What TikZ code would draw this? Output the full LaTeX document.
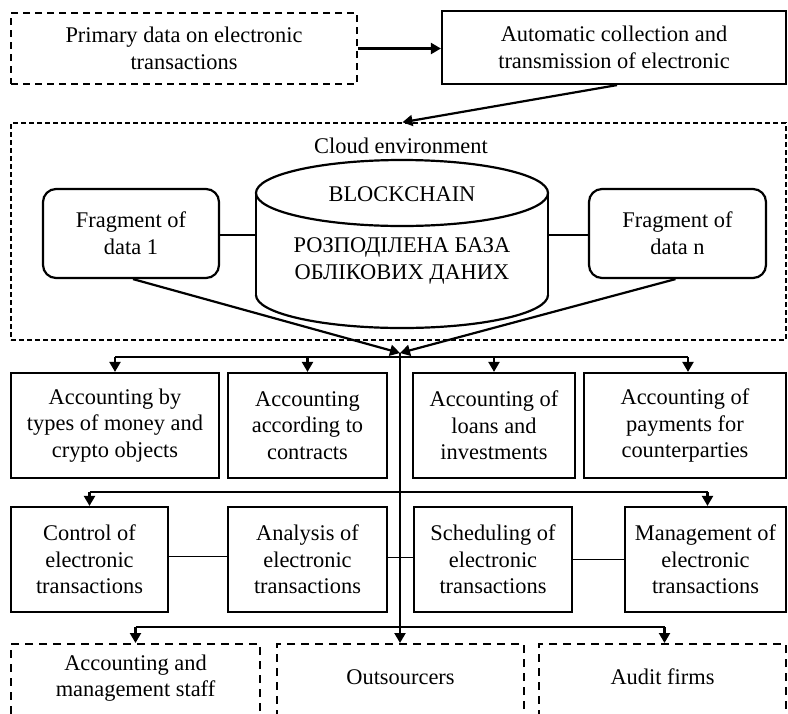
\documentclass[tikz,border=0pt]{standalone}
\usepackage{fontspec}
\setmainfont{Liberation Serif}
\usetikzlibrary{arrows.meta,calc}
\newcommand\boxfont{\fontsize{22.4}{26.6}\selectfont}
\begin{document}
\begin{tikzpicture}[x=1pt,y=-1pt,
  box/.style={draw, line width=2.2pt, align=center, inner sep=0pt, font=\boxfont},
  dbox/.style={box, line width=2pt, dash pattern=on 7pt off 5pt},
  cbox/.style={draw, line width=1.5pt, dash pattern=on 5pt off 3pt},
  frag/.style={box, rounded corners=13pt},
  txt/.style={align=center, inner sep=0pt, font=\boxfont},
  link/.style={line width=2.2pt},
  arr/.style={line width=2.2pt, -{Triangle[length=10pt,width=11pt]}},
  thinlink/.style={line width=1.1pt}]
\useasboundingbox (0,0) rectangle (788,713);
\clip (0,0) rectangle (788,713);

% top row
\node[dbox, minimum width=346pt, minimum height=71pt] (p1) at (184,48.5)
  {Primary data on electronic\\transactions};
\node[box, minimum width=344pt, minimum height=73pt] (p2) at (614,47.5)
  {Automatic collection and\\transmission of electronic};
\draw[arr] (p1.east) -- (p1.east -| p2.west);

% cloud
\node[cbox, minimum width=775pt, minimum height=217pt] (cloud) at (398.5,231.5) {};
\node[txt] (cloudlbl) at (401,146) {Cloud environment};
\draw[arr] ($(p2.south)+(3,0)$) -- ($(cloud.north)+(4,0)$);

% cylinder
\draw[line width=2.2pt] (402,193) ellipse [x radius=146pt, y radius=33pt];
\draw[line width=2.2pt] (256,193) -- (256,295);
\draw[line width=2.2pt] (548,193) -- (548,295);
\begin{scope}
  \clip (240,295) rectangle (560,340);
  \draw[line width=2.2pt] (402,295) ellipse [x radius=146pt, y radius=33pt];
\end{scope}
\coordinate (dbL) at (256,235);
\coordinate (dbR) at (548,235);
\node[txt] (db1) at (402,194) {BLOCKCHAIN};
\node[txt] (db2) at (402,261) {РОЗПОДІЛЕНА БАЗА\\ОБЛІКОВИХ ДАНИХ};

% fragments
\node[frag, minimum width=176pt, minimum height=89pt] (f1) at (131,233.5) {Fragment of\\data 1};
\node[frag, minimum width=177pt, minimum height=89pt] (fn) at (677.5,233.5) {Fragment of\\data n};
\draw[thinlink] (f1.east |- dbL) -- (dbL);
\draw[thinlink] (fn.west |- dbR) -- (dbR);

% junction
\coordinate (J) at (400,353);
\draw[arr] ($(f1.south)+(2,0)$) -- (J);
\draw[arr] ($(fn.south)+(-2,0)$) -- (J);

% row 1
\node[box, minimum width=208pt, minimum height=105pt] (a1) at (115,425.5)
  {Accounting by\\types of money and\\crypto objects};
\node[box, minimum width=159pt, minimum height=105pt] (a2) at (307.5,425.5)
  {Accounting\\according to\\contracts};
\node[box, minimum width=162pt, minimum height=105pt] (a3) at (494,425.5)
  {Accounting of\\loans and\\investments};
\node[box, minimum width=202pt, minimum height=105pt] (a4) at (685,425.5)
  {Accounting of\\payments for\\counterparties};

% row 2
\node[box, minimum width=157pt, minimum height=105pt] (b1) at (89.5,559.5)
  {Control of\\electronic\\transactions};
\node[box, minimum width=159pt, minimum height=105pt] (b2) at (307.5,559.5)
  {Analysis of\\electronic\\transactions};
\node[box, minimum width=158pt, minimum height=105pt] (b3) at (493,559.5)
  {Scheduling of\\electronic\\transactions};
\node[box, minimum width=161pt, minimum height=105pt] (b4) at (705.5,559.5)
  {Management of\\electronic\\transactions};
\draw[thinlink] ($(b1.east)+(0,-3)$) -- ($(b2.west)+(0,-3)$);
\draw[thinlink] ($(b2.east)+(0,-2)$) -- ($(b3.west)+(0,-2)$);
\draw[thinlink] (b3.east) -- (b4.west);

% row 3 (dashed, cut by the page edge)
\node[dbox, dash pattern=on 8pt off 6pt, minimum width=249pt, minimum height=140pt, anchor=north] (c1) at (135.5,643) {};
\node[dbox, dash pattern=on 8pt off 6pt, minimum width=247pt, minimum height=140pt, anchor=north] (c2) at (400.5,643) {};
\node[dbox, dash pattern=on 8pt off 6pt, minimum width=247pt, minimum height=140pt, anchor=north] (c3) at (662.5,643) {};
\node[txt] (c1t) at (135.5,678) {Accounting and\\management staff};
\node[txt] (c2t) at (400.5,677) {Outsourcers};
\node[txt] (c3t) at (662.5,677) {Audit firms};

% distribution bars
\coordinate (y1) at (0,357);
\coordinate (y2) at (0,492);
\coordinate (y3) at (0,627);
\draw[link] (a1.north |- y1) -- ($(a4.north |- y1)+(3,0)$);
\draw[arr] (a1.north |- y1) -- (a1.north);
\draw[arr] (a2.north |- y1) -- (a2.north);
\draw[arr] (a3.north |- y1) -- (a3.north);
\draw[arr] ($(a4.north |- y1)+(3,0)$) -- ($(a4.north)+(3,0)$);

\draw[link] (b1.north |- y2) -- ($(b4.north |- y2)+(2,0)$);
\draw[arr] (b1.north |- y2) -- (b1.north);
\draw[arr] ($(b4.north |- y2)+(2,0)$) -- ($(b4.north)+(2,0)$);

\draw[link] (c1.north |- y3) -- ($(c3.north |- y3)+(2,0)$);
\draw[arr] (c1.north |- y3) -- (c1.north);
\draw[arr] ($(c3.north |- y3)+(2,0)$) -- ($(c3.north)+(2,0)$);

% trunk
\draw[arr] (J) -- (J |- c2.north);
\end{tikzpicture}
\end{document}
